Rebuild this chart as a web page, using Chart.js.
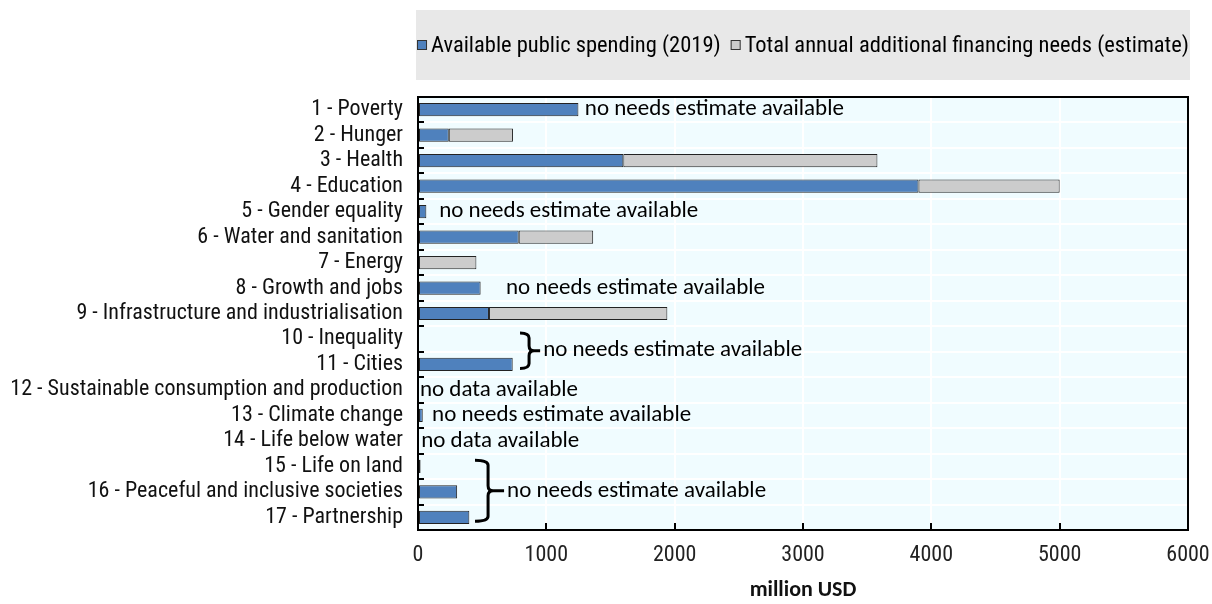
<!DOCTYPE html>
<html lang="en">
<head>
<meta charset="UTF-8">
<title>Public spending and financing needs by SDG</title>
<style>
  html, body { margin: 0; padding: 0; background: #fff; }
  #wrap { width: 1212px; height: 604px; position: relative; }
</style>
</head>
<body>
<div id="wrap"><canvas id="myChart"></canvas></div>

<script src="https://cdn.jsdelivr.net/npm/chart.js"></script>
<script>
// data (million USD)
const goals = [
  '1 - Poverty', '2 - Hunger', '3 - Health', '4 - Education', '5 - Gender equality',
  '6 - Water and sanitation', '7 - Energy', '8 - Growth and jobs',
  '9 - Infrastructure and industrialisation', '10 - Inequality', '11 - Cities',
  '12 - Sustainable consumption and production', '13 - Climate change',
  '14 - Life below water', '15 - Life on land', '16 - Peaceful and inclusive societies',
  '17 - Partnership'
];
const spending = [1250, 240, 1600, 3900, 65, 785, null, 488, 553, 8, 738, null, 37, null, 20, 305, 400];
const needs = [null, 500, 1980, 1100, null, 580, 455, null, 1390, null, null, null, null, null, null, null, null];
const xTicks = [0, 1000, 2000, 3000, 4000, 5000, 6000];
const seriesNames = ['Available public spending (2019)', 'Total annual additional financing needs (estimate)'];

// single-row notes: row index, x value where text starts, text
const noteRows = [0, 4, 7, 11, 12, 13];
const noteValues = [1300, 165, 686, 15, 110, 25];
const noteTexts = [
  'no needs estimate available', 'no needs estimate available', 'no needs estimate available',
  'no data available', 'no needs estimate available', 'no data available'
];
// bracketed notes: first row, last row, brace start value, text start value
const groupFirst = [9, 14];
const groupLast = [10, 16];
const groupBrace = [795, 444];
const groupText = [975, 694];
const groupLabel = ['no needs estimate available', 'no needs estimate available'];

const narrow = '"Roboto Condensed", "Liberation Sans Narrow", "Liberation Sans", sans-serif';
const calib = 'Carlito, Lato, sans-serif';
const blue = '#4f81bd';
const grey = '#cccccc';

function brace(ctx, x0, x1, top, bottom) {
  const mid = (top + bottom) / 2;
  const xm = x0 + (x1 - x0) * 0.45;
  const r = 5;
  ctx.beginPath();
  ctx.moveTo(x0, top);
  ctx.quadraticCurveTo(xm, top, xm, top + r);
  ctx.lineTo(xm, mid - r);
  ctx.quadraticCurveTo(xm, mid, xm + r, mid);
  ctx.lineTo(x1, mid);
  ctx.moveTo(xm + r, mid);
  ctx.quadraticCurveTo(xm, mid, xm, mid + r);
  ctx.lineTo(xm, bottom - r);
  ctx.quadraticCurveTo(xm, bottom, x0, bottom);
  ctx.stroke();
}

const decor = {
  id: 'decor',
  beforeDraw(chart) {
    const { ctx, chartArea: a } = chart;
    ctx.save();
    ctx.fillStyle = '#e8e8e8';
    ctx.fillRect(a.left - 2, 10, a.right - a.left + 4, 70);
    ctx.fillStyle = '#f0fcff';
    ctx.fillRect(a.left, a.top, a.right - a.left, a.bottom - a.top);
    ctx.restore();
  },
  afterDraw(chart) {
    const { ctx, chartArea: a } = chart;
    const xs = chart.scales.x, ys = chart.scales.y;
    ctx.save();

    // legend
    ctx.font = '22.5px ' + narrow;
    ctx.textBaseline = 'middle';
    const colors = [blue, grey];
    const w1 = ctx.measureText(seriesNames[0]).width;
    const w2 = ctx.measureText(seriesNames[1]).width;
    const total = 10 + 4 + w1 + 10 + 10 + 4 + w2;
    let lx = (a.left + a.right) / 2 - total / 2;
    const ly = 45;
    [w1, w2].forEach((w, i) => {
      ctx.fillStyle = colors[i];
      ctx.fillRect(lx, ly - 5, 10, 10);
      ctx.strokeStyle = '#333';
      ctx.lineWidth = 1;
      ctx.strokeRect(lx + 0.5, ly - 4.5, 9, 9);
      ctx.fillStyle = '#000';
      ctx.fillText(seriesNames[i], lx + 14, ly + 1);
      lx += 14 + w + 10;
    });

    // frame
    ctx.strokeStyle = '#000';
    ctx.lineWidth = 2;
    ctx.strokeRect(a.left, a.top, a.right - a.left, a.bottom - a.top);

    // inner tick marks
    ctx.lineWidth = 2;
    ctx.beginPath();
    xTicks.slice(1, -1).forEach(v => {
      const px = Math.round(xs.getPixelForValue(v));
      ctx.moveTo(px, a.bottom);
      ctx.lineTo(px, a.bottom - 7);
    });
    for (let i = 0; i < goals.length - 1; i++) {
      const py = Math.round((ys.getPixelForValue(i) + ys.getPixelForValue(i + 1)) / 2);
      ctx.moveTo(a.left, py);
      ctx.lineTo(a.left + 6, py);
    }
    ctx.stroke();

    // notes
    ctx.fillStyle = '#000';
    ctx.font = '23px ' + calib;
    ctx.textAlign = 'left';
    noteRows.forEach((row, i) => {
      ctx.fillText(noteTexts[i], xs.getPixelForValue(noteValues[i]), ys.getPixelForValue(row));
    });
    ctx.lineWidth = 3;
    groupFirst.forEach((first, i) => {
      const top = ys.getPixelForValue(first) - 6;
      const bottom = ys.getPixelForValue(groupLast[i]) + 4;
      const tx = xs.getPixelForValue(groupText[i]);
      brace(ctx, xs.getPixelForValue(groupBrace[i]), tx - 3, top, bottom);
      ctx.fillText(groupLabel[i], tx, (top + bottom) / 2);
    });
    ctx.restore();
  }
};

new Chart(document.getElementById('myChart'), {
  type: 'bar',
  data: {
    labels: goals,
    datasets: [
      {
        label: seriesNames[0],
        data: spending,
        backgroundColor: blue,
        borderColor: '#222',
        borderWidth: 1,
        borderSkipped: false,
        barPercentage: 0.52,
        categoryPercentage: 1
      },
      {
        label: seriesNames[1],
        data: needs,
        backgroundColor: grey,
        borderColor: '#222',
        borderWidth: 1,
        borderSkipped: false,
        barPercentage: 0.52,
        categoryPercentage: 1
      }
    ]
  },
  options: {
    indexAxis: 'y',
    responsive: true,
    maintainAspectRatio: false,
    animation: false,
    layout: { padding: { top: 97, right: 0, left: 0, bottom: 0 } },
    plugins: { legend: { display: false }, tooltip: { enabled: false } },
    scales: {
      x: {
        stacked: true,
        min: 0,
        max: 6000,
        afterBuildTicks: s => { s.ticks = xTicks.map(v => ({ value: v })); },
        afterFit: s => { s.height = 74; s.paddingRight = 24; },
        grid: { color: '#ffffff', lineWidth: 2, drawTicks: false },
        border: { display: false },
        ticks: {
          color: '#222',
          font: { family: narrow, size: 22 },
          padding: 12,
          maxRotation: 0,
          callback: v => String(v)
        },
        title: {
          display: true,
          text: 'million USD',
          color: '#111',
          font: { family: calib, size: 22, weight: 'bold' },
          padding: { top: 4, bottom: 0 }
        }
      },
      y: {
        stacked: true,
        afterFit: s => { s.width = 418; },
        grid: { color: '#ffffff', lineWidth: 2, offset: true, drawTicks: false },
        border: { display: false },
        ticks: { color: '#111', font: { family: narrow, size: 22 }, padding: 15, autoSkip: false }
      }
    }
  },
  plugins: [decor]
});
</script>
</body>
</html>
